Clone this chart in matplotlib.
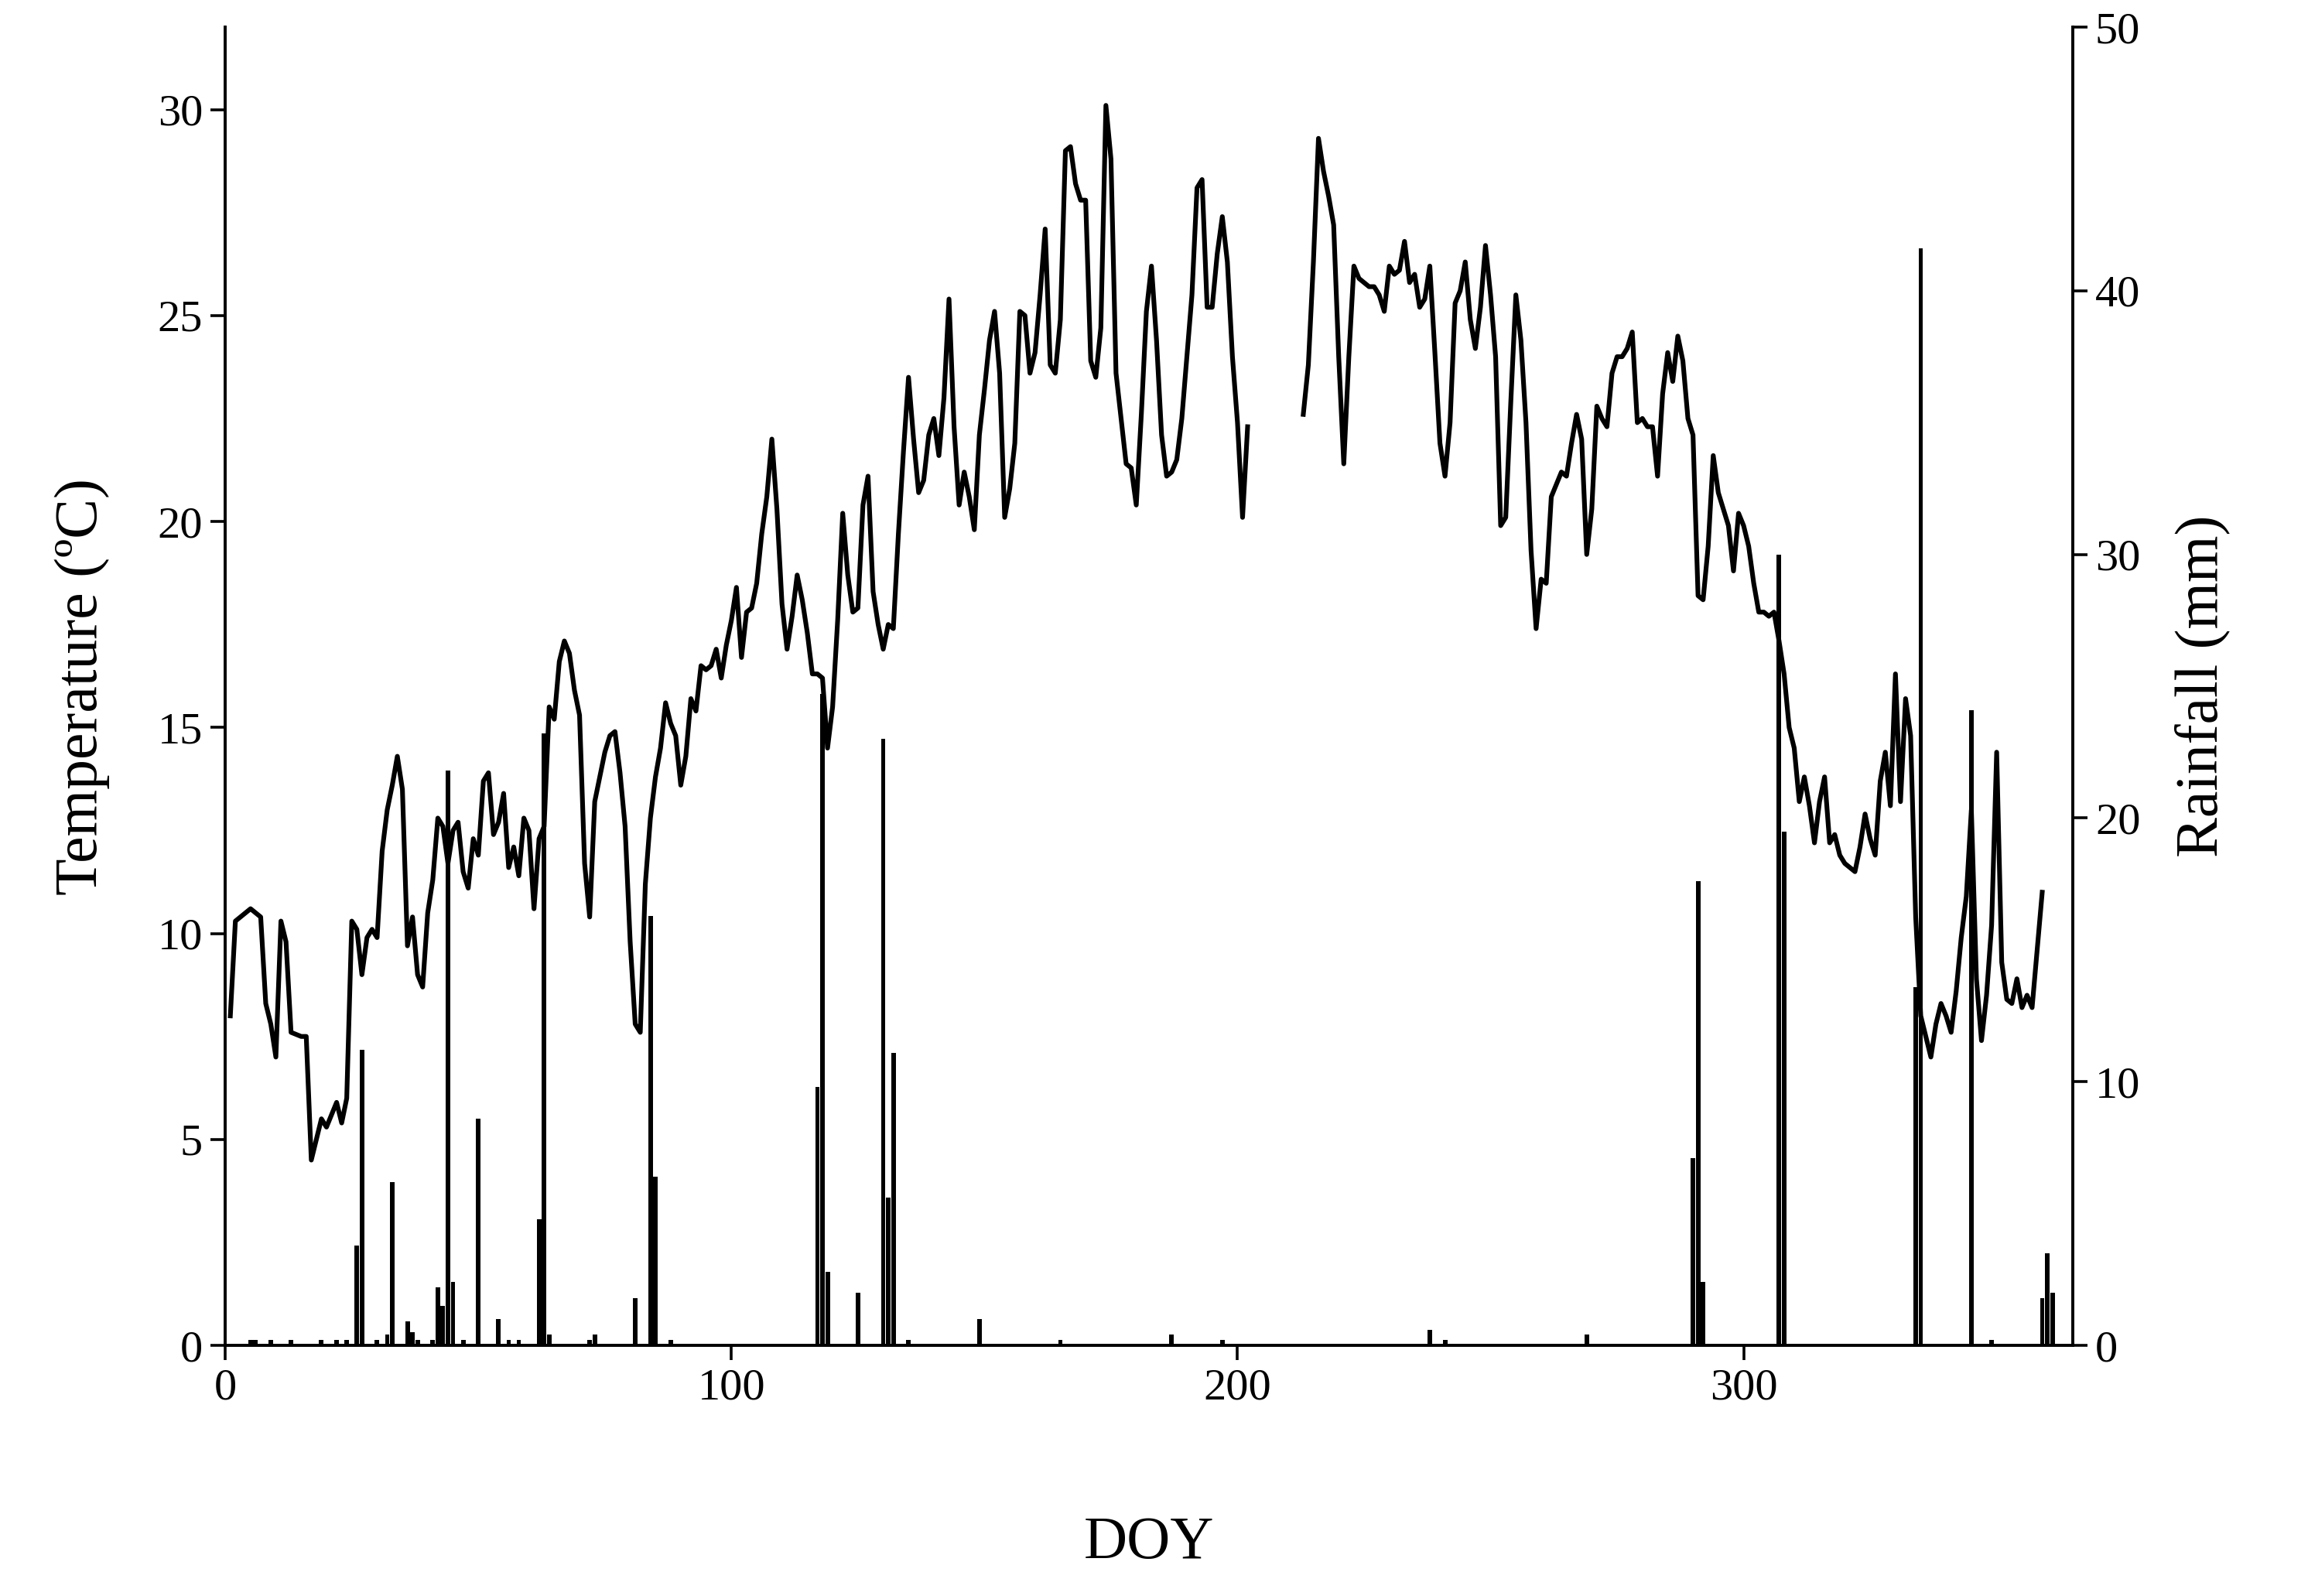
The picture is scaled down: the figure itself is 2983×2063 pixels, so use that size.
import numpy as np
import matplotlib
matplotlib.use("Agg")
import matplotlib.pyplot as plt

temp_a = [8.0,10.3,10.4,10.5,10.6,10.5,10.4,8.3,7.8,7.0,10.3,9.8,7.6,7.55,7.5,7.5,4.5,
          5.0,5.5,5.3,5.6,5.9,5.4,6.0,10.3,10.1,9.0,9.9,10.1,9.9,12.0,13.0,13.6,14.3,13.5,9.7,10.4,
          9.0,8.7,10.5,11.3,12.8,12.6,11.7,12.5,12.7,11.5,11.1,12.3,11.9,13.7,13.9,12.4,12.7,13.4,11.6,12.1,
          11.4,12.8,12.5,10.6,12.3,12.6,15.5,15.2,16.6,17.1,16.8,15.9,15.3,11.7,10.4,13.2,13.8,14.4,14.8,14.9,
          13.9,12.6,9.8,7.8,7.6,11.2,12.8,13.8,14.5,15.6,15.1,14.8,13.6,14.3,15.7,15.4,16.5,16.4,16.5,16.9,
          16.2,17.0,17.6,18.4,16.7,17.8,17.9,18.5,19.7,20.6,22.0,20.3,18.0,16.9,17.7,18.7,18.1,17.3,16.3,16.3,
          16.2,14.5,15.5,17.6,20.2,18.7,17.8,17.9,20.4,21.1,18.3,17.5,16.9,17.5,17.4,19.7,21.7,23.5,22.0,20.7,
          21.0,22.1,22.5,21.6,23.0,25.4,22.3,20.4,21.2,20.6,19.8,22.1,23.2,24.4,25.1,23.6,20.1,20.8,21.9,25.1,
          25.0,23.6,24.1,25.5,27.1,23.8,23.6,24.9,29.0,29.1,28.2,27.8,27.8,23.9,23.5,24.7,30.1,28.8,23.6,22.5,
          21.4,21.3,20.4,22.6,25.1,26.2,24.4,22.1,21.1,21.2,21.5,22.5,24.0,25.5,28.1,28.3,25.2,25.2,26.5,27.4,
          26.3,24.0,22.4,20.1,22.3]
temp_doy_a = list(range(1, len(temp_a) + 1))
temp_b = [22.6,23.8,26.3,29.3,28.5,27.9,27.2,24.0,21.4,24.0,26.2,25.9,25.8,25.7,25.7,25.5,25.1,26.2,26.0,26.1,
          26.8,25.8,26.0,25.2,25.4,26.2,24.1,21.9,21.1,22.4,25.3,25.6,26.3,24.9,24.2,25.2,26.7,25.5,24.0,19.9,
          20.1,22.9,25.5,24.4,22.4,19.3,17.4,18.6,18.5,20.6,20.9,21.2,21.1,21.9,22.6,22.0,19.2,20.3,22.8,22.5,
          22.3,23.6,24.0,24.0,24.2,24.6,22.4,22.5,22.3,22.3,21.1,23.1,24.1,23.4,24.5,23.9,22.5,22.1,18.2,18.1,
          19.4,21.6,20.7,20.3,19.9,18.8,20.2,19.9,19.4,18.5,17.8,17.8,17.7,17.8,17.1,16.3,15.0,14.5,13.2,13.8,
          13.1,12.2,13.2,13.8,12.2,12.4,11.9,11.7,11.6,11.5,12.1,12.9,12.3,11.9,13.7,14.4,13.1,16.3,13.2,15.7,
          14.8,10.4,8.0,7.5,7.0,7.8,8.3,8.0,7.6,8.6,9.9,10.9,13.0,8.9,7.4,8.5,10.2,14.4,9.3,8.4,
          8.3,8.9,8.2,8.5,8.2,9.6,11.0]
temp_doy_b = list(range(213, 213 + len(temp_b)))

rain_doy = [5,6,9,13,19,22,24,26,27,30,32,33,36,37,38,41,42,43,44,45,47,50,54,56,58,62,63,64,72,73,
            81,84,85,88,117,118,119,125,130,131,132,135,149,165,187,197,238,241,269,290,291,292,307,308,
            334,335,345,349,359,360,361]
rain_mm = [0.2,0.2,0.2,0.2,0.2,0.2,0.2,3.8,11.2,0.2,0.4,6.2,0.9,0.5,0.2,0.2,2.2,1.5,21.8,2.4,0.2,8.6,1.0,0.2,0.2,
           4.8,23.2,0.4,0.2,0.4,1.8,16.3,6.4,0.2,9.8,24.7,2.8,2.0,23.0,5.6,11.1,0.2,1.0,0.2,0.4,0.2,0.6,0.2,0.4,
           7.1,17.6,2.4,30.0,19.5,13.6,41.6,24.1,0.2,1.8,3.5,2.0]

plt.rcParams['font.family'] = ['Liberation Serif', 'DejaVu Serif']
fig = plt.figure(figsize=(14.915, 10.315), dpi=200)
ax = fig.add_axes([0.0976, 0.157, 0.8004, 0.826])
ax2 = ax.twinx()
ax2.bar(rain_doy, rain_mm, width=0.9, color='black')
ax2.set_ylim(0, 50)
ax2.set_yticks([0, 10, 20, 30, 40, 50])
ax.plot(temp_doy_a, temp_a, color='black', lw=2.2)
ax.plot(temp_doy_b, temp_b, color='black', lw=2.2)
ax.set_zorder(ax2.get_zorder() + 1)
ax.patch.set_visible(False)
ax.set_xlim(0, 365)
ax.set_ylim(0, 32)
ax.set_yticks([0, 5, 10, 15, 20, 25, 30])
ax.set_xticks([0, 100, 200, 300])
for a in (ax, ax2):
    a.spines['top'].set_visible(False)
    a.tick_params(labelsize=21, direction='out', length=7, width=1.3)
    for s in a.spines.values():
        s.set_linewidth(1.3)
ax.set_xlabel('DOY', fontsize=28, labelpad=50)
ax.set_ylabel('Temperature (ºC)', fontsize=28, labelpad=22)
ax2.set_ylabel('Rainfall (mm)', fontsize=28, labelpad=16)
fig.savefig('out.png', dpi=200)
